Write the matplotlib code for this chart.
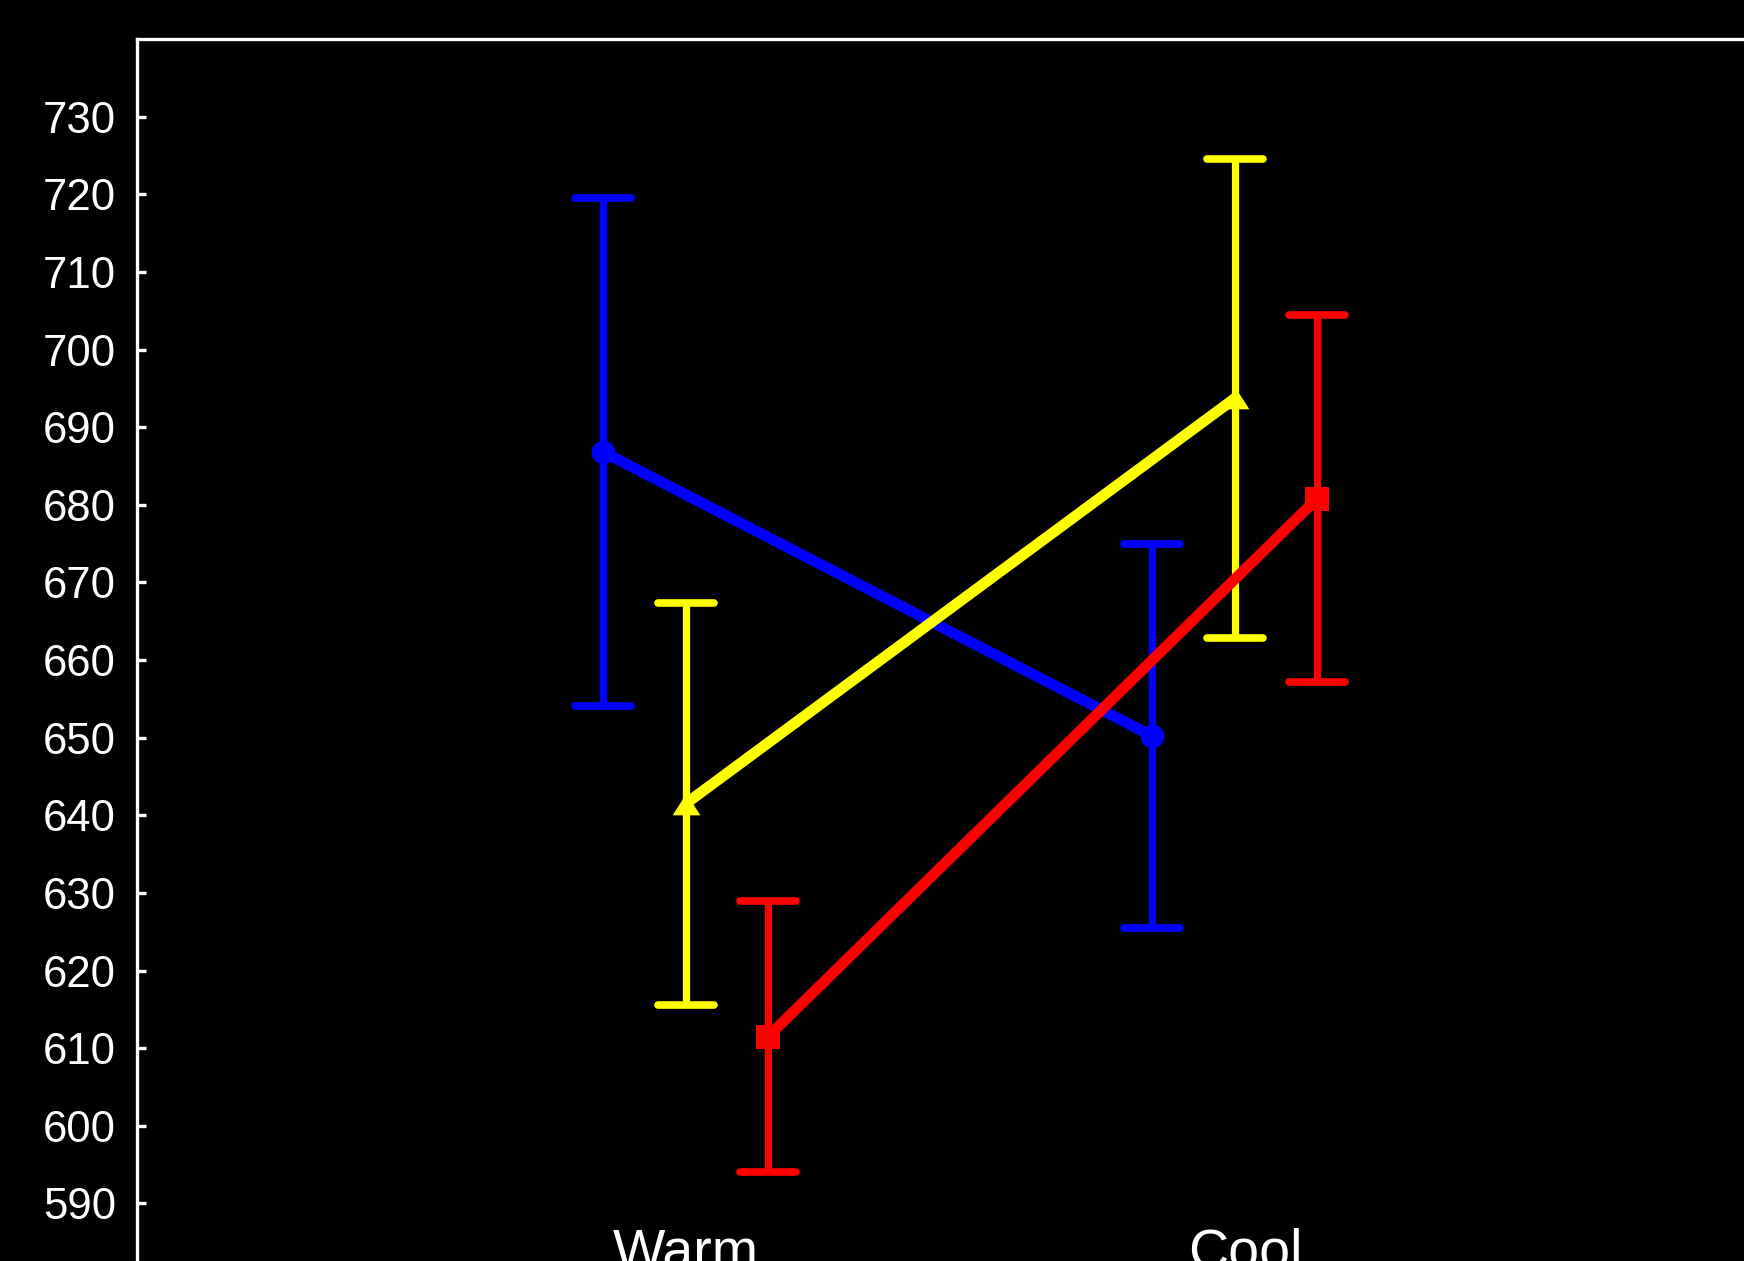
"""
Interaction plot: mean response for Warm vs Cool with three groups.
"""
import matplotlib.pyplot as plt
from matplotlib.markers import MarkerStyle

# categories on the x axis
conditions = ["Warm", "Cool"]
cond_x = [1.0, 2.0]
label_x = [1.0, 2.02]

# group means and +/- error at each condition
blue_mean = [686.8, 650.2]
blue_err = [32.7, 24.7]
yellow_mean = [641.5, 693.7]
yellow_err = [25.9, 30.9]
red_mean = [611.5, 680.8]
red_err = [17.4, 23.6]

yticks = list(range(590, 740, 10))

plt.rcParams["font.family"] = ["Liberation Sans", "DejaVu Sans"]

fig = plt.figure(figsize=(17.44, 12.61), dpi=100, facecolor="black")
ax = fig.add_axes([0.0784, -0.01594, 0.9444, 0.98501], facecolor="black")

tri = MarkerStyle([(0, 0.78), (-1, -0.78), (1, -0.78), (0, 0.78)])

series = [
    (blue_mean, blue_err, -0.15, "#0000ff", "o", 17),
    (yellow_mean, yellow_err, 0.0, "#ffff00", tri, 20),
    (red_mean, red_err, 0.15, "#ff0000", "s", 17),
]

for z, (mean, err, off, color, marker, ms) in enumerate(series):
    xs = [x + off for x in cond_x]
    _, caps, bars = ax.errorbar(xs, mean, yerr=err, fmt="none", ecolor=color,
                                elinewidth=5.2, capsize=20, capthick=5.5,
                                zorder=2 + z * 2)
    for cap in caps:
        cap.set_marker(MarkerStyle("_", capstyle="round"))
    ax.plot(xs, mean, color=color, lw=7.8, marker=marker, ms=ms,
            markeredgewidth=0, solid_capstyle="butt", zorder=3 + z * 2)

ax.set_xlim(0, 3)
ax.set_ylim(580, 740)
ax.set_yticks(yticks)
ax.set_xticks([])

for side in ["left", "top", "right", "bottom"]:
    ax.spines[side].set_color("white")
    ax.spines[side].set_linewidth(2.4)

ax.tick_params(axis="y", direction="in", length=6.5, width=2.4,
               colors="white", labelsize=31.5, pad=15)

for x, name in zip(label_x, conditions):
    ax.text(x, 581.8, name, color="white", fontsize=40, ha="center",
            va="baseline")

fig.savefig("out.png", dpi=100, facecolor="black")
